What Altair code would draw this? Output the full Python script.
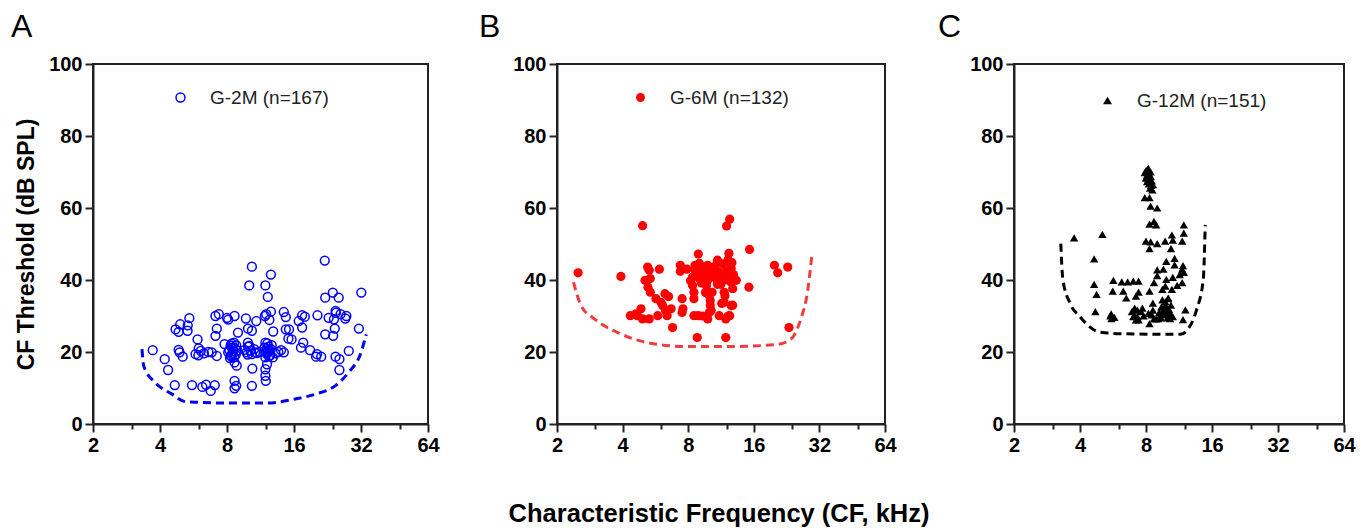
import altair as alt
import pandas as pd

# ---------------- data ----------------
A_f = [3.71,4.2,4.35,4.66,4.7,4.85,4.93,4.85,4.9,5.06,5.32,5.33,5.42,5.57,5.9,5.78,5.97,6.2,6.44,6.76,
       7.05,6.6,6.83,7.2,7.1,7.35,7.2,7.1,7.8,8.0,8.1,8.4,8.1,8.5,8.4,8.65,8.6,8.65,8.8,8.65,
       8.65,8.85,8.96,9.73,9.94,10.07,10.35,10.35,9.93,10.1,9.8,10.35,10.4,10.35,10.83,10.7,11.9,11.85,12.0,12.2,
       12.6,12.6,12.4,11.9,12.1,12.2,11.9,12.1,11.9,11.9,11.95,12.9,12.85,13.6,14.4,14.4,14.7,14.7,15.2,15.1,
       15.6,16.8,17.4,17.4,17.9,17.6,17.2,18.9,20.4,20.3,20.1,21.2,22.0,22.1,22.1,22.9,23.9,24.0,24.2,24.4,
       24.6,24.7,25.4,24.6,25.6,25.6,25.9,27.2,27.5,28.2,31.3,32.1,
       8.2,8.3,8.45,8.55,8.7,8.75,8.3,8.9,8.6,8.4,8.8,8.25,
       11.8,12.0,12.3,12.45,12.5,12.15,12.6,11.9,12.35,12.7,
       9.6,9.9,10.2,10.6,10.9,11.2,9.95,6.1,6.3,5.95,13.2,14.0]
A_v = [20.5,18,15,10.8,26.3,25.6,27.7,20.6,19.9,18.7,25.9,27.4,29.4,10.8,23.5,19.4,21,10.3,10.9,9.2,
       10.8,20,19.9,18.9,30,30.5,26.5,24.5,22.2,29.5,29,21.2,19.9,20.8,18.7,30,22.6,12,10.6,9.9,
       17.1,16.2,25.4,29.3,26.5,38.5,43.7,25.9,22.6,21.7,19.9,19.4,15.4,10.6,28.6,19.9,38.5,30,30.5,35.3,
       41.5,31.2,28.9,22.6,20.8,19.9,18.5,16.6,15.2,13.4,12,25.7,18.5,20,19.9,31.1,29.7,26.3,26.3,23.7,
       23.5,28.6,30.2,26.8,29.8,22.6,21.2,20.5,30.2,19.4,18.7,18.7,45.4,35.1,24.9,29.5,36.5,24.5,29.1,26.5,
       31.4,30.9,35.1,18.7,18,15,30.5,29.3,30,20.3,26.5,36.5,
       20.5,21.8,19.5,20.2,21,19.2,19,20.4,18.6,22.3,21.8,18.3,
       21.2,19.6,21.5,20.3,19.1,22.4,20.8,20.1,18.8,21.9,
       20.6,19.3,20.4,20.8,19.7,20.1,21.5,20.3,19.6,19.1,19.6,20.5]

B_f = [2.5,3.93,4.94,4.34,4.61,4.86,4.94,4.68,5.21,5.3,5.07,5.36,5.23,5.36,5.3,5.69,5.8,5.9,6.0,6.1,
       6.26,6.5,6.3,6.4,6.68,6.78,7.36,7.36,7.5,7.57,7.5,7.9,8.38,8.38,8.5,8.5,8.6,8.9,8.9,8.5,
       8.9,8.8,9.0,9.3,9.83,9.66,9.83,10.0,10.1,10.1,10.3,9.83,10.0,10.2,10.5,10.9,11.1,10.9,11.1,11.7,
       11.7,11.9,11.9,12.0,12.4,12.3,12.4,12.6,12.4,12.6,12.8,12.6,12.4,13.3,15.3,15.2,19.9,20.6,22.9,23.2,
       8.7,9.1,9.4,9.5,9.2,10.3,10.6,10.8,11.3,11.5,11.3,11.9,12.1,9.7,10.9,12.2,9.0,8.2,8.6,11.6,12.9,12.7,
       9.6,10.2,11.4,12.2,12.8,9.3,11.8]
B_v = [42,41,55.1,30.1,30.6,32,29.2,30.1,43.6,42.7,39.9,40.4,38,36.6,29.2,34.8,30.1,43,33.8,32.9,
       36.2,35.4,31.5,30.1,32,26.8,44.1,42.4,34.8,32,31,43,40.8,38.5,36.6,34.8,44.1,47.2,43.2,30.1,
       30.1,24,40.4,41.8,44.1,41.3,39.9,35.7,34.3,32.9,36.6,29.2,31,42.2,40.8,45.5,42.2,39.9,30.1,36.6,
       33.8,24,29.2,55,56.9,47.4,44.6,43.2,41.3,39.4,37.6,32.9,30.1,39.9,48.5,38,44.1,42,43.6,26.8,
       41.5,42.8,40.1,43.5,39.2,41.2,43.8,41,40.5,44.5,38.8,42.3,40,38.4,38.8,45.6,44.6,39.8,42.8,41.6,41.5,44.8,
       36.5,31.5,33.5,30,33,30,35.6]

C_f = [3.76,5.06,4.64,4.64,4.76,4.7,5.68,5.64,5.5,5.57,5.74,6.2,6.3,6.5,6.6,7.0,7.1,7.0,6.9,7.2,
       7.3,7.4,7.4,7.6,7.9,8.3,8.4,9.0,8.7,8.3,8.9,8.0,8.4,9.0,8.3,9.78,10.5,10.4,10.6,11.9,
       11.9,11.7,9.9,9.6,10.8,9.0,9.0,9.9,10.6,11.7,11.9,11.7,12.1,11.8,8.7,8.3,8.6,8.2,8.3,8.7,
       9.3,9.6,9.8,10.1,9.9,10.3,10.6,9.5,10.5,9.8,7.7,7.4,9.1,
       7.9,8.0,8.1,8.15,8.25,8.05,8.2,8.3,8.35,8.4,8.1,8.25,8.45,8.5,8.35,8.55,8.2,8.0,8.4,8.6,
       9.2,9.4,9.6,9.8,10.0,10.2,9.5,10.4,9.9,10.1,9.3,10.3,7.1,7.3,7.2,8.5,8.6,7.8,8.9,5.55,
       11.1,11.4,10.8,11.8]
C_v = [51.7,52.7,45.9,38.8,36,31.2,39.9,36.9,30,29.3,29.6,39.5,36.9,35,39.5,39.7,32.2,29.8,31.2,35.5,
       29.8,36.6,39.7,31.2,62.9,62.9,60.5,60,56.3,55.5,55.3,50.8,50.6,50.1,48.7,50.8,52.5,48.7,51.1,55.3,
       53,50.8,45.2,43,44.2,42.8,41.2,40.2,40.7,43,42.1,39.3,31.7,29,39.3,36.9,33.6,30.7,27.9,29.3,
       29.8,31.7,34,35,32.6,30.7,29.8,37.4,37.4,38.3,32.2,28.9,29.3,
       69.8,70.4,69.2,70.8,70.2,68.6,68,69.3,67.8,68.7,67.3,66.7,66.3,67.5,65.5,65,71,68.3,70,66.5,
       31,32.5,30.4,32.8,29.5,31.8,34.5,33,30.8,34.8,29.5,29.3,30.2,31.6,28.9,30.3,31.6,30,29.2,30.6,
       38.5,41.5,46,44]

# dashed threshold curves
A_cf = [3.32,3.38,3.81,4.53,5.2,6.0,8.0,12.0,16.0,20.0,24.5,28.2,31.8,33.8]
A_cv = [20.8,16.1,11.5,8.3,6.2,6.0,5.8,5.8,6.9,8.3,10.6,14.4,19.4,24.9]
B_cf = [2.38,2.58,2.97,3.80,5.21,7.97,12.1,20.5,23.7,26.3,28.2,29.5]
B_cv = [39.4,32.9,29.2,25.4,22.6,21.5,21.5,22.1,23.6,29.2,36.6,46.4]
C_cf = [3.27,3.34,3.6,4.0,4.93,6.1,11.5,12.3,13.6,14.6,14.9]
C_cv = [50.1,40.2,33.6,29.8,25.5,25.1,24.9,26.0,31.7,40.2,55.3]

labels = ["G-2M (n=167)", "G-6M (n=132)", "G-12M (n=151)"]
letters = ["A", "B", "C"]
x_ticks = [2, 3, 4, 6, 8, 12, 16, 24, 32, 48, 64]
y_ticks = [0, 10, 20, 30, 40, 50, 60, 70, 80, 90, 100]

FONT = "Liberation Sans"


def panel(f, v, cf, cv, label, letter, color, line_color, kind, width, height, show_ytitle, lx, ly, loff, letx):
    pts = pd.DataFrame({"f": f, "v": v, "g": [label] * len(f)})
    crv = pd.DataFrame({"f": cf, "v": cv})
    xsc = alt.Scale(type="log", base=2, domain=[2, 64], nice=False)
    ysc = alt.Scale(domain=[0, 100], nice=False)
    xaxis = alt.Axis(
        values=x_ticks, title=None,
        labelExpr="indexof([2,4,8,16,32,64], datum.value) >= 0 ? format(datum.value, 'd') : ''",
        tickSize={"condition": {"test": "indexof([2,4,8,16,32,64], datum.value) >= 0", "value": 8}, "value": 5},
        labelOverlap=False, labelFlush=False,
    )
    yaxis = alt.Axis(
        values=y_ticks,
        title="CF Threshold (dB SPL)" if show_ytitle else None,
        labelExpr="datum.value % 20 == 0 ? datum.label : ''",
        tickSize={"condition": {"test": "datum.value % 20 == 0", "value": 8}, "value": 5},
        labelOverlap=False, labelFlush=False,
    )
    legend = alt.Legend(orient="none", legendX=lx, legendY=ly, title=None, labelOffset=loff,
                        symbolType=("triangle-up" if kind == "tri" else "circle"))
    cscale = alt.Scale(domain=[label], range=[color])
    if kind == "open":
        m = alt.Chart(pts).mark_point(filled=False, size=78, strokeWidth=1.5, opacity=1)
    elif kind == "fill":
        m = alt.Chart(pts).mark_circle(size=85, opacity=1)
    else:
        m = alt.Chart(pts).mark_point(shape="triangle-up", filled=True, size=70, opacity=1)
    points = m.encode(
        x=alt.X("f:Q", scale=xsc, axis=xaxis),
        y=alt.Y("v:Q", scale=ysc, axis=yaxis),
        color=alt.Color("g:N", scale=cscale, legend=legend),
    )
    line = alt.Chart(crv).mark_line(strokeDash=[8, 5], strokeWidth=3, color=line_color, interpolate="monotone").encode(
        x=alt.X("f:Q", scale=xsc), y=alt.Y("v:Q", scale=ysc)
    )
    let = alt.Chart(pd.DataFrame({"t": [letter]})).mark_text(
        font=FONT, fontSize=32, align="left", baseline="alphabetic", color="black"
    ).encode(text="t:N", x=alt.value(letx), y=alt.value(-27))
    return alt.layer(line, points, let).properties(width=width, height=height)


pA = panel(A_f, A_v, A_cf, A_cv, labels[0], letters[0], "#0000ff", "#0000ee", "open", 335, 360, True, 78, 24, 20, -82)
pB = panel(B_f, B_v, B_cf, B_cv, labels[1], letters[1], "#ff0000", "#f03c3c", "fill", 328, 360, False, 74, 24, 20, -78)
pC = panel(C_f, C_v, C_cf, C_cv, labels[2], letters[2], "#000000", "#000000", "tri", 330, 360, False, 84, 27, 20, -76)

chart = alt.hconcat(pA, pB, pC, spacing=129, bounds="flush").resolve_scale(color="independent").properties(
    title=alt.TitleParams("Characteristic Frequency (CF, kHz)", orient="bottom", anchor="middle",
                          font=FONT, fontSize=25.5, fontWeight="bold", color="black", offset=46, dx=36),
    padding={"left": 10, "top": 10, "right": 10, "bottom": 5},
).configure_view(stroke="#222", strokeWidth=2).configure_axis(
    labelFont=FONT, labelFontSize=20, labelFontWeight="bold", labelColor="black",
    titleFont=FONT, titleFontSize=23, titleFontWeight="bold", titleColor="black", titlePadding=10,
    domainColor="#222", domainWidth=2, tickColor="#222", tickWidth=2, grid=False, labelPadding=3,
).configure_legend(
    labelFont=FONT, labelFontSize=19, labelColor="#222", padding=0, symbolSize=80, symbolStrokeWidth=1.5,
)

chart.save("out.html", embed_options={"renderer": "svg", "actions": False})
